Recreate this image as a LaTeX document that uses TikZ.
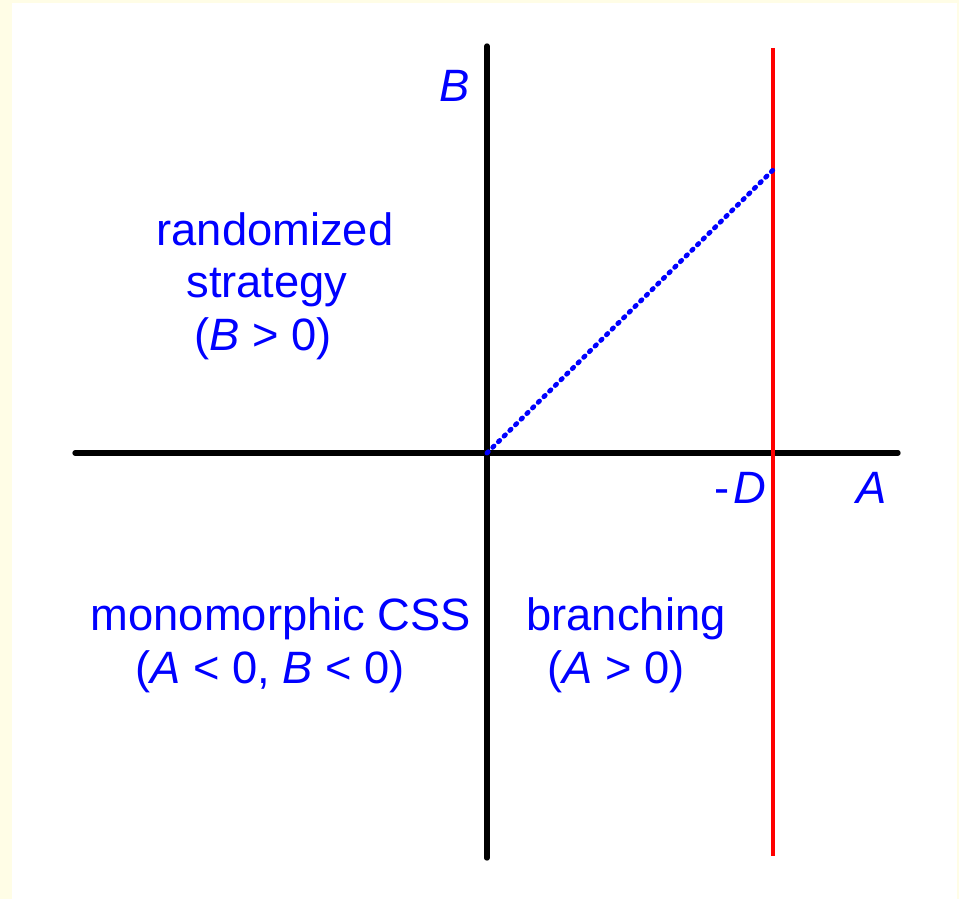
\documentclass[tikz,border=0pt]{standalone}
\usepackage{fontspec}
\setmainfont{Liberation Sans}
\definecolor{bgyel}{RGB}{255,253,230}
\begin{document}
\begin{tikzpicture}[x=0.75pt,y=-0.75pt,
  lbl/.style={text=blue,font=\fontsize{34}{39}\selectfont,inner sep=0pt,anchor=base},
  axis/.style={line width=4pt,black,line cap=round},
  redline/.style={line width=2.8pt,red},
  dots/.style={blue,line width=3.6pt,line cap=round,dash pattern=on 1.4pt off 4.6pt}]
\fill[bgyel] (0,0) rectangle (959,899);
\fill[white] (12,3) rectangle (957,899);
\useasboundingbox (0,0) rectangle (959,899);
\coordinate (xl) at (75,453);
\coordinate (xr) at (898,453);
\coordinate (yt) at (487,46);
\coordinate (yb) at (487,858);
\coordinate (o) at (487,453);
\coordinate (rt) at (773,48);
\coordinate (rb) at (773,856);
\coordinate (p) at (773,170);
\draw[axis] (xl) -- (xr);
\draw[axis] (yt) -- (yb);
\draw[redline] (rt) -- (rb);
\draw[dots] (o) -- (p);
\node[lbl] (lb) at (455,101) {\textit{B}};
\node[lbl] (ld) at (740,503) {-\kern3pt\textit{D}};
\node[lbl] (la) at (872,503) {\textit{A}};
\node[lbl] (r1) at (275,245) {randomized};
\node[lbl] (r2) at (267,297) {strategy};
\node[lbl] (r3) at (263,350) {(\textit{B} > 0)};
\node[lbl] (m1) at (281,630) {monomorphic CSS};
\node[lbl] (m2) at (270,683) {(\textit{A} < 0, \textit{B} < 0)};
\node[lbl] (b1) at (626,630) {branching};
\node[lbl] (b2) at (616,683) {(\textit{A} > 0)};
\end{tikzpicture}
\end{document}
